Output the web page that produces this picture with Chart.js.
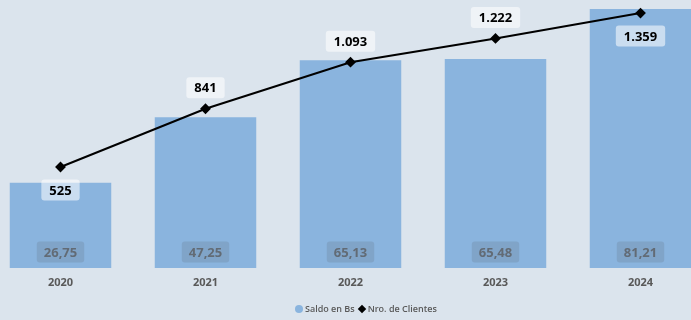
<!DOCTYPE html>
<html>
<head>
<meta charset="utf-8">
<script src="https://cdn.jsdelivr.net/npm/chart.js@4"></script>
<style>
  html, body { margin: 0; padding: 0; background: #dbe4ed; overflow: hidden; }
  #wrap { position: relative; width: 691px; height: 320px; overflow: hidden; }
  #chartBox { position: absolute; left: -12px; top: 0; width: 725px; height: 320px; }
  #legend { position: absolute; top: 302px; left: 295px; font: 600 9px "Open Sans", sans-serif; color: #595959; display: flex; align-items: center; white-space: nowrap; }
  .dot { display: inline-block; width: 8px; height: 8px; border-radius: 50%; background: #8ab4de; margin-right: 2px; }
  .dia { display: inline-block; width: 6px; height: 6px; background: #000; transform: rotate(45deg); margin: 0 3px 0 4px; }
</style>
</head>
<body>
<div id="wrap">
  <div id="chartBox"><canvas id="c" width="725" height="320"></canvas></div>
  <div id="legend"><span class="dot"></span>Saldo en Bs<span class="dia"></span>Nro. de Clientes</div>
</div>
<script>
const years = ['2020', '2021', '2022', '2023', '2024'];
const saldo = [26.75, 47.25, 65.13, 65.48, 81.21];
const clientes = [525, 841, 1093, 1222, 1359];
const clientesLabelPos = ['below', 'above', 'above', 'above', 'below'];

function fmtDec(v) { return v.toFixed(2).replace('.', ','); }
function fmtInt(v) { return v.toString().replace(/\B(?=(\d{3})+(?!\d))/g, '.'); }

function roundRect(ctx, x, y, w, h, r) {
    ctx.beginPath();
    ctx.moveTo(x + r, y);
    ctx.lineTo(x + w - r, y);
    ctx.quadraticCurveTo(x + w, y, x + w, y + r);
    ctx.lineTo(x + w, y + h - r);
    ctx.quadraticCurveTo(x + w, y + h, x + w - r, y + h);
    ctx.lineTo(x + r, y + h);
    ctx.quadraticCurveTo(x, y + h, x, y + h - r);
    ctx.lineTo(x, y + r);
    ctx.quadraticCurveTo(x, y, x + r, y);
    ctx.closePath();
}

const labelPlugin = {
    id: 'valueLabels',
    afterDatasetsDraw(chart) {
        const ctx = chart.ctx;
        ctx.save();
        ctx.textAlign = 'center';
        ctx.textBaseline = 'middle';
        // bar labels near bottom
        ctx.font = 'bold 13px "Noto Sans", sans-serif';
        chart.getDatasetMeta(0).data.forEach((bar, i) => {
            const txt = fmtDec(saldo[i]);
            const w = ctx.measureText(txt).width + 14;
            const cy = chart.chartArea.bottom - 16;
            ctx.fillStyle = 'rgba(95, 110, 125, 0.22)';
            roundRect(ctx, bar.x - w / 2, cy - 10.5, w, 21, 3);
            ctx.fill();
            ctx.fillStyle = '#626b75';
            ctx.fillText(txt, bar.x, cy + 1);
        });
        // line labels
        chart.getDatasetMeta(1).data.forEach((pt, i) => {
            const txt = fmtInt(clientes[i]);
            const w = ctx.measureText(txt).width + 16;
            const cy = clientesLabelPos[i] === 'above' ? pt.y - 21 : pt.y + 23;
            ctx.fillStyle = 'rgba(255, 255, 255, 0.55)';
            roundRect(ctx, pt.x - w / 2, cy - 10.5, w, 21, 3);
            ctx.fill();
            ctx.fillStyle = '#000';
            ctx.fillText(txt, pt.x, cy + 1);
        });
        ctx.restore();
    }
};

new Chart(document.getElementById('c').getContext('2d'), {
    data: {
        labels: years,
        datasets: [
            {
                type: 'bar',
                label: 'Saldo en Bs',
                data: saldo,
                backgroundColor: '#8ab4de',
                yAxisID: 'y',
                categoryPercentage: 1,
                barPercentage: 0.7,
                order: 2
            },
            {
                type: 'line',
                label: 'Nro. de Clientes',
                data: clientes,
                borderColor: '#000',
                backgroundColor: '#000',
                borderWidth: 2,
                pointStyle: 'rectRot',
                pointRadius: 4,
                pointHoverRadius: 4,
                yAxisID: 'y2',
                clip: false,
                order: 1
            }
        ]
    },
    options: {
        responsive: false,
        animation: false,
        layout: { padding: 0, autoPadding: false },
        plugins: {
            legend: { display: false },
            tooltip: { enabled: false }
        },
        scales: {
            x: {
                grid: { display: false, drawTicks: false },
                border: { display: false },
                ticks: {
                    padding: 8,
                    color: '#595959',
                    font: { family: '"Noto Sans", sans-serif', size: 11, weight: 'bold' }
                },
                afterFit(scale) { scale.height = 52; }
            },
            y: { display: false, min: 0, max: 84 },
            y2: { display: false, min: -22, max: 1430 }
        }
    },
    plugins: [labelPlugin]
});
</script>
</body>
</html>
